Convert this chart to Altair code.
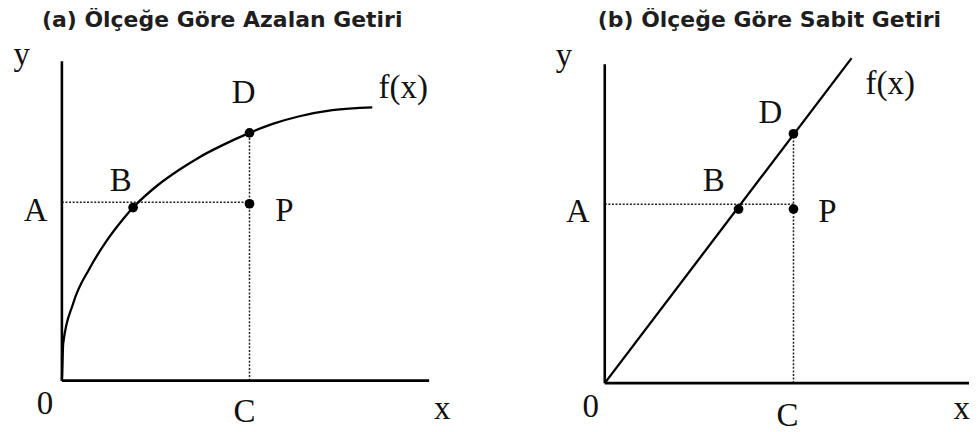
import altair as alt
import pandas as pd

# ---------------- data (conceptual units) ----------------
TITLE_A = "(a) Ölçeğe Göre Azalan Getiri"
TITLE_B = "(b) Ölçeğe Göre Sabit Getiri"

# Panel (a): decreasing returns to scale, concave f(x)
a_curve_x = [0.0, 0.02, 0.04, 0.35, 0.875, 1.40, 1.92, 2.23, 3.00, 3.70, 4.31, 5.00, 5.875, 6.60, 7.44, 8.47, 9.72]
a_curve_y = [0.0, 0.60, 1.16, 2.41, 3.53, 4.375, 5.06, 5.42, 6.12, 6.62, 7.00, 7.36, 7.76, 8.04, 8.28, 8.47, 8.56]
a_point_names = ["B", "D", "P"]
a_point_x = [2.23, 5.875, 5.875]
a_point_y = [5.42, 7.76, 5.54]
a_level_A = 5.59
a_C = 5.875
a_D_y = 7.76
a_axis_x_end = 11.5
a_axis_y_end = 10.0
a_labels = ["y", "A", "B", "D", "f(x)", "P", "0", "C", "x"]
a_label_x = [-1.26, -0.82, 1.84, 5.69, 10.69, 6.97, -0.53, 5.72, 11.91]
a_label_y = [9.89, 5.00, 5.94, 8.70, 8.84, 5.00, -1.03, -1.28, -1.19]

# Panel (b): constant returns to scale, straight f(x)
b_curve_x = [0.0, 7.73]
b_curve_y = [0.0, 10.18]
b_point_names = ["B", "D", "P"]
b_point_x = [4.19, 5.91, 5.91]
b_point_y = [5.45, 7.81, 5.45]
b_level_A = 5.60
b_C = 5.91
b_D_y = 7.81
b_axis_x_end = 11.6
b_axis_y_end = 9.99
b_labels = ["y", "A", "B", "D", "f(x)", "P", "0", "C", "x"]
b_label_x = [-1.28, -0.84, 3.41, 5.19, 8.94, 6.97, -0.44, 5.72, 11.18]
b_label_y = [9.94, 5.05, 6.02, 8.15, 9.04, 5.05, -1.07, -1.33, -1.11]

# ---------------- chart helpers ----------------
def panel(title, title_dx, width, height, xdom, ydom,
          cx, cy, pnames, px, py, level_A, C, D_y, x_end, y_end,
          labels, lx, ly):
    xs = alt.Scale(domain=xdom, nice=False, zero=False)
    ys = alt.Scale(domain=ydom, nice=False, zero=False)
    X = lambda f: alt.X(f, type="quantitative", scale=xs, axis=None)
    Y = lambda f: alt.Y(f, type="quantitative", scale=ys, axis=None)

    axes_df = pd.DataFrame({"x": [0, 0], "y": [0, 0], "x2": [x_end, 0], "y2": [0, y_end]})
    axes = alt.Chart(axes_df).mark_rule(color="black", strokeWidth=2.6, clip=True).encode(
        x=X("x"), y=Y("y"), x2="x2:Q", y2="y2:Q")

    dot_df = pd.DataFrame({"x": [0, C], "y": [level_A, 0], "x2": [C, C], "y2": [level_A, D_y]})
    dotted = alt.Chart(dot_df).mark_rule(color="#222222", strokeWidth=1.5, strokeDash=[2, 1.6]).encode(
        x=X("x"), y=Y("y"), x2="x2:Q", y2="y2:Q")

    curve_df = pd.DataFrame({"x": cx, "y": cy, "i": list(range(len(cx)))})
    curve = alt.Chart(curve_df).mark_line(color="black", strokeWidth=2.3, interpolate="monotone").encode(
        x=X("x"), y=Y("y"), order="i:Q")

    pts_df = pd.DataFrame({"name": pnames, "x": px, "y": py})
    pts = alt.Chart(pts_df).mark_circle(color="black", size=95, opacity=1).encode(
        x=X("x"), y=Y("y"))

    lab_df = pd.DataFrame({"label": labels, "x": lx, "y": ly})
    labs = alt.Chart(lab_df).mark_text(font="Liberation Serif", fontSize=33, baseline="alphabetic",
                                       align="center", color="#111111").encode(
        x=X("x"), y=Y("y"), text="label:N")

    return alt.layer(dotted, axes, curve, pts, labs).properties(
        width=width, height=height,
        title=alt.TitleParams(text=title, font="DejaVu Sans", fontSize=22, fontWeight="bold",
                              color="#1e1e1e", anchor="start", frame="group", dx=title_dx,
                              offset=-13.5, baseline="alphabetic"))

H = 390
chart_a = panel(TITLE_A, 34, 481, H, [-54 / 32, (481 - 54) / 32], [-44 / 32, 346 / 32],
                a_curve_x, a_curve_y, a_point_names, a_point_x, a_point_y,
                a_level_A, a_C, a_D_y, a_axis_x_end, a_axis_y_end,
                a_labels, a_label_x, a_label_y)
chart_b = panel(TITLE_B, 110, 482, H, [-117 / 32, (482 - 117) / 32], [-41.5 / 32, 348.5 / 32],
                b_curve_x, b_curve_y, b_point_names, b_point_x, b_point_y,
                b_level_A, b_C, b_D_y, b_axis_x_end, b_axis_y_end,
                b_labels, b_label_x, b_label_y)

chart = alt.hconcat(chart_a, chart_b, spacing=0).properties(
    padding=0, background="white"
).configure_view(stroke=None)

chart.save("out.html", embed_options={"renderer": "svg", "actions": False})
